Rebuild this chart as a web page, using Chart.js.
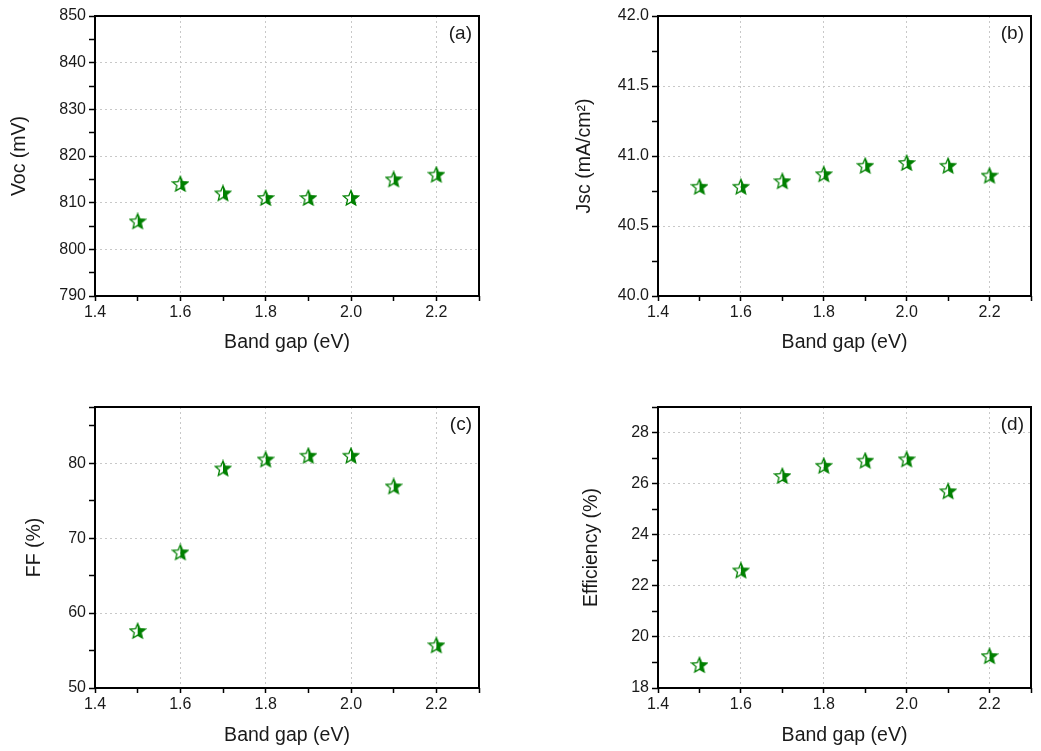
<!DOCTYPE html>
<html>
<head>
<meta charset="utf-8">
<script src="https://cdn.jsdelivr.net/npm/chart.js@4.4.0/dist/chart.umd.min.js"></script>
<style>
  html, body { margin: 0; padding: 0; background: #fff; }
  .panel { position: absolute; }
</style>
</head>
<body>
<div class="panel" style="left:0;top:0;width:520px;height:375px"><canvas id="chartA"></canvas></div>
<div class="panel" style="left:520px;top:0;width:521px;height:375px"><canvas id="chartB"></canvas></div>
<div class="panel" style="left:0;top:375px;width:520px;height:376px"><canvas id="chartC"></canvas></div>
<div class="panel" style="left:520px;top:375px;width:521px;height:376px"><canvas id="chartD"></canvas></div>
<script>
// data
const bandGap   = [1.5, 1.6, 1.7, 1.8, 1.9, 2.0, 2.1, 2.2];
const vocValues = [806, 814, 812, 811, 811, 811, 815, 816];
const jscValues = [40.78, 40.78, 40.82, 40.87, 40.93, 40.95, 40.93, 40.86];
const ffValues  = [57.6, 68.1, 79.3, 80.5, 81.0, 81.0, 76.9, 55.7];
const effValues = [18.9, 22.6, 26.3, 26.7, 26.9, 26.95, 25.7, 19.25];

const FONT = "'Liberation Sans', Arial, sans-serif";
const GREEN = '#008000';
const TEXT = '#1a1a1a';

// half open / half filled star like the Origin marker
function makeStar(size, color) {
    const c = document.createElement('canvas');
    c.width = size; c.height = size;
    const ctx = c.getContext('2d');
    const cx = size / 2, cy = size / 2 + 0.5, ro = size / 2 - 1, ri = ro * 0.45;
    ctx.beginPath();
    for (let i = 0; i < 10; i++) {
        const r = i % 2 ? ri : ro;
        const a = -Math.PI / 2 + i * Math.PI / 5;
        ctx.lineTo(cx + r * Math.cos(a), cy + r * Math.sin(a));
    }
    ctx.closePath();
    ctx.save();
    ctx.clip();
    ctx.fillStyle = color;
    ctx.fillRect(cx, 0, size, size);
    ctx.restore();
    ctx.strokeStyle = color;
    ctx.lineWidth = 1.3;
    ctx.stroke();
    return c;
}
const star = makeStar(18, GREEN);

const framePlugin = {
    id: 'frame',
    afterDraw(chart, args, opts) {
        const {ctx, chartArea: a} = chart;
        ctx.save();
        ctx.strokeStyle = '#000';
        ctx.lineWidth = 2;
        ctx.strokeRect(a.left, a.top, a.right - a.left, a.bottom - a.top);
        ctx.fillStyle = TEXT;
        ctx.font = '19px ' + FONT;
        ctx.textAlign = 'right';
        ctx.textBaseline = 'middle';
        ctx.fillText(opts.letter, a.right - 7, a.top + 18);
        ctx.restore();
    }
};

function near(v, step) {
    return Math.abs(v / step - Math.round(v / step)) < 1e-6;
}

function makeChart(id, values, letter, yTitle, y, box) {
    return new Chart(document.getElementById(id), {
        type: 'scatter',
        data: {
            datasets: [{
                data: bandGap.map((x, i) => ({x: x, y: values[i]})),
                pointStyle: star,
                pointRadius: 9,
                pointHoverRadius: 9
            }]
        },
        options: {
            responsive: true,
            maintainAspectRatio: false,
            animation: false,
            layout: {padding: {left: box.padLeft, top: box.padTop, right: box.padRight, bottom: box.padBottom}},
            plugins: {legend: {display: false}, tooltip: {enabled: false}, frame: {letter: letter}},
            scales: {
                x: {
                    type: 'linear',
                    min: 1.4, max: 2.3,
                    afterFit(scale) { scale.height = box.xHeight; },
                    ticks: {
                        stepSize: 0.1,
                        autoSkip: false,
                        maxRotation: 0,
                        padding: 2,
                        color: TEXT,
                        font: {family: FONT, size: 16},
                        callback: v => near(v, 0.2) ? v.toFixed(1) : ''
                    },
                    grid: {
                        color: c => near(c.tick.value, 0.2) ? '#c8c8c8' : 'rgba(0,0,0,0)',
                        lineWidth: 1,
                        tickColor: '#000',
                        tickWidth: 1.5,
                        tickLength: 5,
                        tickBorderDash: []
                    },
                    border: {display: false, dash: [2, 3]},
                    title: {display: true, text: 'Band gap (eV)', color: TEXT, font: {family: FONT, size: 19.5}, padding: 0}
                },
                y: {
                    min: y.min, max: y.max,
                    afterFit(scale) { scale.width = box.yWidth; },
                    ticks: {
                        stepSize: y.step,
                        autoSkip: false,
                        padding: 3,
                        color: TEXT,
                        font: {family: FONT, size: 16},
                        callback: v => near(v, y.major) ? v.toFixed(y.digits) : ''
                    },
                    grid: {
                        color: c => near(c.tick.value, y.major) ? '#c8c8c8' : 'rgba(0,0,0,0)',
                        lineWidth: 1,
                        tickColor: '#000',
                        tickWidth: 1.5,
                        tickLength: 6,
                        tickBorderDash: []
                    },
                    border: {display: false, dash: [2, 3]},
                    title: {display: true, text: yTitle, color: TEXT, font: {family: FONT, size: 19.5}, padding: 0}
                }
            }
        },
        plugins: [framePlugin]
    });
}

const chartA = makeChart('chartA', vocValues, '(a)', 'Voc (mV)',
    {min: 790, max: 850, step: 5, major: 10, digits: 0},
    {padLeft: 8, padTop: 16, padRight: 41, padBottom: 21, yWidth: 87, xHeight: 58});

const chartB = makeChart('chartB', jscValues, '(b)', 'Jsc (mA/cm²)',
    {min: 40, max: 42, step: 0.25, major: 0.5, digits: 1},
    {padLeft: 53, padTop: 16, padRight: 1, padBottom: 21, yWidth: 85, xHeight: 58});

const chartC = makeChart('chartC', ffValues, '(c)', 'FF (%)',
    {min: 50, max: 87.5, step: 5, major: 10, digits: 0},
    {padLeft: 23, padTop: 32, padRight: 41, padBottom: 4, yWidth: 72, xHeight: 59});

const chartD = makeChart('chartD', effValues, '(d)', 'Efficiency (%)',
    {min: 18, max: 29, step: 1, major: 2, digits: 0},
    {padLeft: 60, padTop: 32, padRight: 1, padBottom: 4, yWidth: 78, xHeight: 59});
</script>
</body>
</html>
